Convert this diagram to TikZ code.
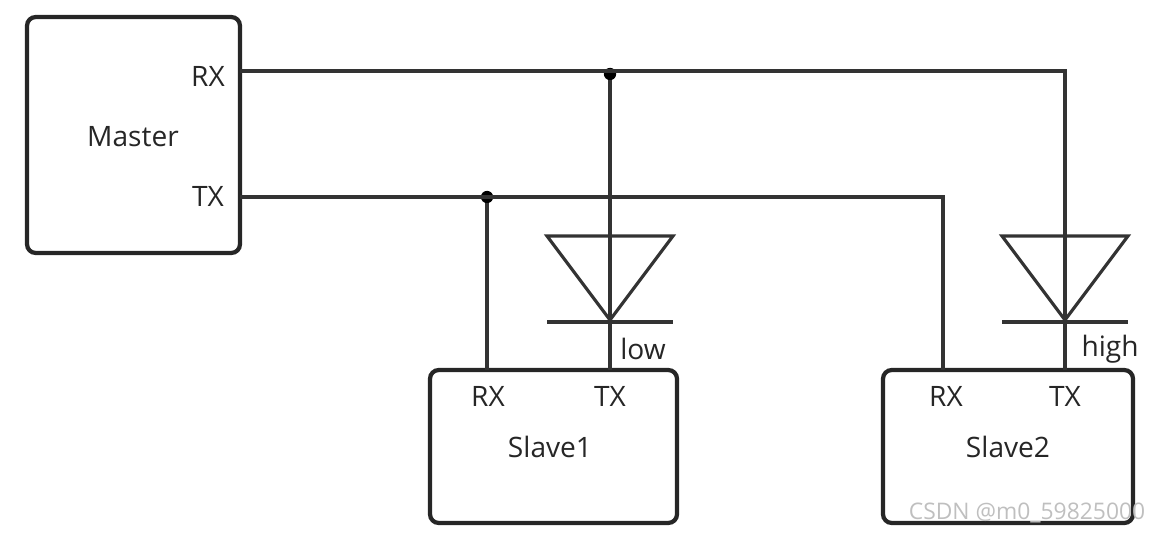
\documentclass[tikz,border=0pt]{standalone}
\usepackage{fontspec}
\setmainfont{Open Sans}
\begin{document}
\begin{tikzpicture}[x=0.02cm,y=-0.02cm,
  box/.style={draw=black!85,line width=2.4pt,rounded corners=5pt},
  wire/.style={draw=black!80,line width=1.8pt},
  lbl/.style={font=\fontsize{16}{18}\selectfont,text=black!85,inner sep=0pt},
  dot/.style={circle,fill=black,inner sep=0pt,minimum size=7pt}]
\useasboundingbox (0,0) rectangle (1151,533);
\draw[box] (27,17) rectangle (240,253);
\draw[box] (430,370) rectangle (677,523);
\draw[box] (883,370) rectangle (1133,523);
\node[lbl] (mm) at (133,137) {Master};
\node[lbl] (mrx) at (208,76) {RX};
\node[lbl] (mtx) at (208,196) {TX};
\node[lbl] (s1) at (550,447) {Slave1};
\node[lbl] (s1rx) at (488,396) {RX};
\node[lbl] (s1tx) at (610,396) {TX};
\node[lbl] (s2) at (1008,447) {Slave2};
\node[lbl] (s2rx) at (946,396) {RX};
\node[lbl] (s2tx) at (1065,396) {TX};
\node[lbl] (low) at (643,349) {low};
\node[lbl] (high) at (1110,349) {high};
\coordinate (a) at (240,71);
\coordinate (b) at (1065,71);
\coordinate (c) at (240,197);
\coordinate (d) at (943,197);
\node[dot] (d1) at (610,74) {};
\node[dot] (d2) at (487,197) {};
\draw[wire] (a) -- (b) -- (1065,370);
\draw[wire] (d1) -- (610,370);
\draw[wire] (c) -- (d) -- (943,370);
\draw[wire] (d2) -- (487,370);
\foreach \x in {610,1065}{
  \draw[wire,line join=miter] (\x-63,236) -- (\x+63,236) -- (\x,320) -- cycle;
  \draw[wire] (\x-63,322) -- (\x+63,322);
}
\node[lbl,text=black!25,font=\fontsize{13}{15}\selectfont] (wm) at (1027,513) {CSDN @m0\_59825000};
\end{tikzpicture}
\end{document}
